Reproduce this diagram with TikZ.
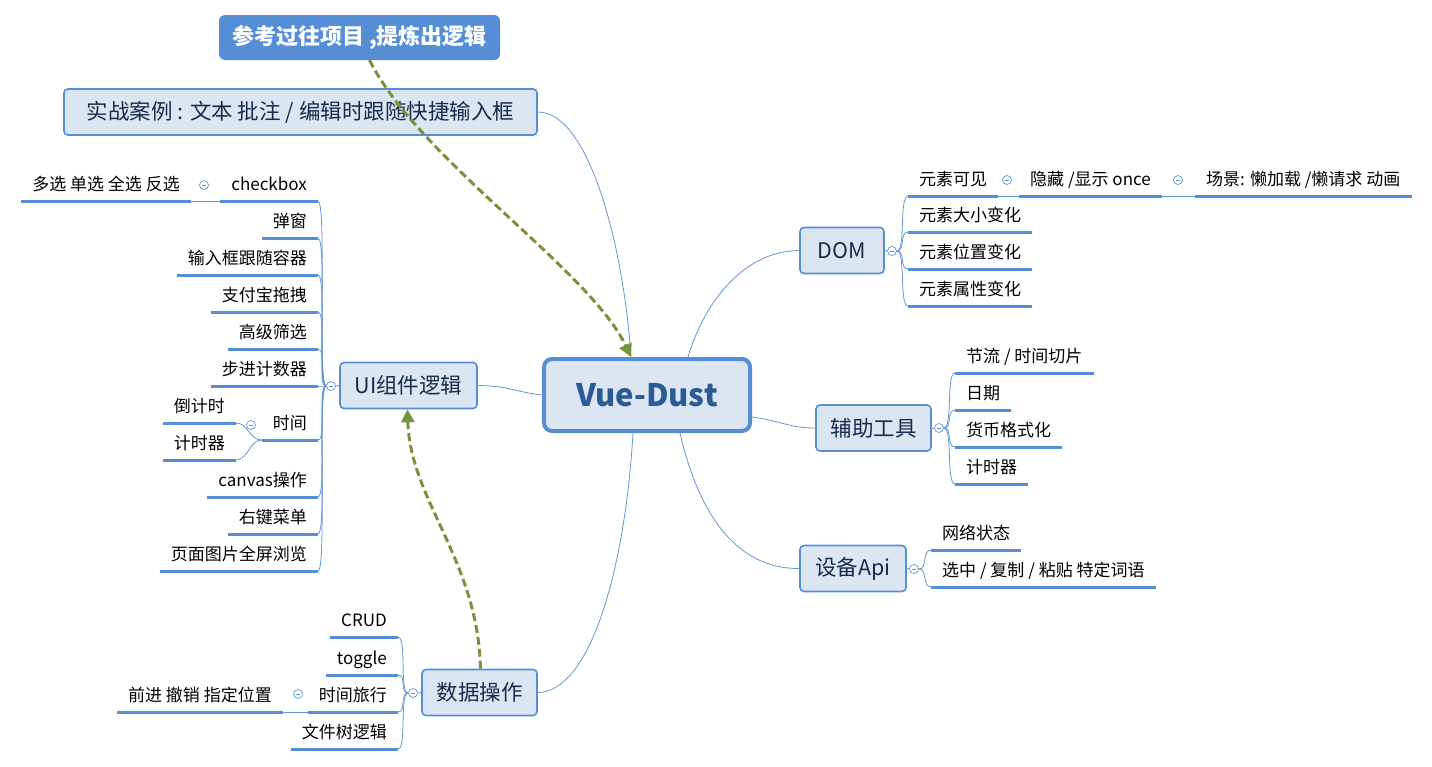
\documentclass[tikz,border=0pt]{standalone}
\usepackage{fontspec}
\setmainfont{Noto Sans CJK SC}
\usetikzlibrary{arrows.meta}
\definecolor{cblue}{RGB}{85,142,213}
\definecolor{lblue}{RGB}{220,230,242}
\definecolor{tdark}{RGB}{23,43,77}
\definecolor{vtext}{RGB}{44,90,150}
\definecolor{cgreen}{RGB}{119,147,60}
\definecolor{lconn}{RGB}{100,150,215}
\begin{document}
\begin{tikzpicture}[x=1pt,y=-1pt,
  topic/.style={draw=cblue, line width=1.6pt, fill=lblue, rounded corners=4pt,
    minimum height=46pt, inner xsep=4pt, font=\fontsize{21.5}{25}\selectfont, text=tdark},
  leafR/.style={anchor=south west, font=\fontsize{17}{20}\selectfont, inner xsep=11pt,
    inner ysep=5pt, text height=14pt, text depth=5pt, text=black},
  leafL/.style={leafR, anchor=south east},
  uline/.style={cblue, line width=3pt},
  conn/.style={lconn, line width=0.8pt},
  col/.style={circle, draw=lconn, fill=white, line width=0.7pt, minimum size=9pt, inner sep=0pt,
    path picture={\draw[lconn, line width=0.7pt] ([xshift=-2.3pt]path picture bounding box.center) -- ([xshift=2.3pt]path picture bounding box.center);}},
  dasharrow/.style={cgreen, line width=3pt, dash pattern=on 8pt off 4pt,
    -{Triangle[length=13pt,width=13pt]}}
]
\useasboundingbox (0,0) rectangle (1432,766);

% central node
\node[draw=cblue, line width=4pt, fill=lblue, rounded corners=8pt, minimum width=206pt,
  minimum height=72pt, font=\fontsize{31}{36}\selectfont\bfseries, text=vtext] (vue) at (647,395) {Vue-Dust};

% note
\node[fill=cblue, rounded corners=6pt, minimum width=281pt, minimum height=45pt, text=white,
  font=\fontsize{22}{26}\selectfont\bfseries] (note) at (359.5,37.5) {参考过往项目 ,提炼出逻辑};

% main topics
\node[topic, minimum width=473pt] (case) at (300.5,112) {实战案例 : 文本 批注 / 编辑时跟随快捷输入框};
\node[topic, minimum width=84pt] (dom) at (842,250.5) {DOM};
\node[topic, minimum width=115pt] (aux) at (873.5,428) {辅助工具};
\node[topic, minimum width=106pt] (dev) at (853,568.5) {设备Api};
\node[topic, minimum width=137pt] (ui) at (408.5,385.5) {UI组件逻辑};
\node[topic, minimum width=115pt] (data) at (479.5,692.5) {数据操作};

% collapse circles
\node[col] (cdom) at (892,251) {};
\node[col] (caux) at (939,428) {};
\node[col] (cdev) at (914,569) {};
\node[col] (cui) at (331,386) {};
\node[col] (cdata) at (413,693) {};
\node[col] (ccb) at (204,185) {};
\node[col] (ctime) at (251,425) {};
\node[col] (ctt) at (298,694) {};
\node[col] (cvis) at (1007,180) {};
\node[col] (chide) at (1178,180) {};

% DOM leaves
\node[leafR] (d1) at (908,196) {元素可见};
\node[leafR] (d1a) at (1019,196) {隐藏 /显示 once};
\node[leafR] (d1b) at (1195,196) {场景: 懒加载 /懒请求 动画};
\node[leafR] (d2) at (908,232) {元素大小变化};
\node[leafR] (d3) at (908,269) {元素位置变化};
\node[leafR] (d4) at (908,306) {元素属性变化};
% aux leaves
\node[leafR] (a1) at (955,373) {节流 / 时间切片};
\node[leafR] (a2) at (955,410) {日期};
\node[leafR] (a3) at (955,447) {货币格式化};
\node[leafR] (a4) at (955,484) {计时器};
% device leaves
\node[leafR] (s1) at (931,550) {网络状态};
\node[leafR] (s2) at (931,587) {选中 / 复制 / 粘贴 特定词语};
% UI leaves
\node[leafL] (u1) at (318,201) {checkbox};
\node[leafL] (u1a) at (191,201) {多选 单选 全选 反选};
\node[leafL] (u2) at (318,238) {弹窗};
\node[leafL] (u3) at (318,275) {输入框跟随容器};
\node[leafL] (u4) at (318,312) {支付宝拖拽};
\node[leafL] (u5) at (318,349) {高级筛选};
\node[leafL] (u6) at (318,386) {步进计数器};
\node[leafL] (u7) at (318,440) {时间};
\node[leafL] (u7a) at (236,423) {倒计时};
\node[leafL] (u7b) at (236,460) {计时器};
\node[leafL] (u8) at (318,497) {canvas操作};
\node[leafL] (u9) at (318,534) {右键菜单};
\node[leafL] (u10) at (318,571) {页面图片全屏浏览};
% data leaves
\node[leafL] (k1) at (398,637) {CRUD};
\node[leafL] (k2) at (398,675) {toggle};
\node[leafL] (k3) at (398,712) {时间旅行};
\node[leafL] (k3a) at (283,712) {前进 撤销 指定位置};
\node[leafL] (k4) at (398,749) {文件树逻辑};

% underlines
\foreach \n in {d1,d1a,d1b,d2,d3,d4,a1,a2,a3,a4,s1,s2,u1,u1a,u2,u3,u4,u5,u6,u7,u7a,u7b,u8,u9,u10,k1,k2,k3,k3a,k4}
  \draw[uline] (\n.south west) -- (\n.south east);

% main connectors
\draw[conn] (case.east) .. controls (590,112) and (624,250) .. ([xshift=-16pt]vue.north);
\draw[conn] ([xshift=41pt]vue.north) .. controls (705,300) and (745,251) .. (dom.west);
\draw[conn] ([yshift=-22pt]vue.east) .. controls (785,422) and (790,428) .. (aux.west);
\draw[conn] ([xshift=33pt]vue.south) .. controls (700,520) and (740,569) .. (dev.west);
\draw[conn] ([xshift=-14pt]vue.south) .. controls (625,570) and (590,692) .. (data.east);
\draw[conn] (ui.east) .. controls (510,386) and (515,392) .. (vue.west);

% node to circle
\draw[conn] (dom.east) -- (cdom.west);
\draw[conn] (aux.east) -- (caux.west);
\draw[conn] (dev.east) -- (cdev.west);
\draw[conn] (ui.west) -- (cui.east);
\draw[conn] (data.west) -- (cdata.east);

% brackets right
\foreach \n in {d1,d2,d3,d4}
  \draw[conn] (cdom.east) .. controls +(9,0) and +(-9,0) .. (\n.south west);
\foreach \n in {a1,a2,a3,a4}
  \draw[conn] (caux.east) .. controls +(9,0) and +(-9,0) .. (\n.south west);
\foreach \n in {s1,s2}
  \draw[conn] (cdev.east) .. controls +(9,0) and +(-9,0) .. (\n.south west);
% brackets left
\foreach \n in {u1,u2,u3,u4,u5,u6,u7,u8,u9,u10}
  \draw[conn] (cui.west) .. controls +(-9,0) and +(9,0) .. (\n.south east);
\foreach \n in {k1,k2,k3,k4}
  \draw[conn] (cdata.west) .. controls +(-9,0) and +(9,0) .. (\n.south east);
\foreach \n in {u7a,u7b}
  \draw[conn] (u7.south west) .. controls +(-12,0) and +(12,0) .. (\n.south east);

% chained leaves
\draw[conn] (u1a.south east) -- (u1.south west);
\draw[conn] (k3a.south east) -- (k3.south west);
\draw[conn] (d1.south east) -- (d1a.south west);
\draw[conn] (d1a.south east) -- (d1b.south west);

% dashed relation arrows
\draw[dasharrow] ([xshift=10pt]note.south) .. controls (420,160) and (590,270) .. ([xshift=-16pt]vue.north);
\draw[dasharrow] ([xshift=1pt]data.north) .. controls (478,560) and (410,500) .. ([xshift=-1pt]ui.south);
\end{tikzpicture}
\end{document}
